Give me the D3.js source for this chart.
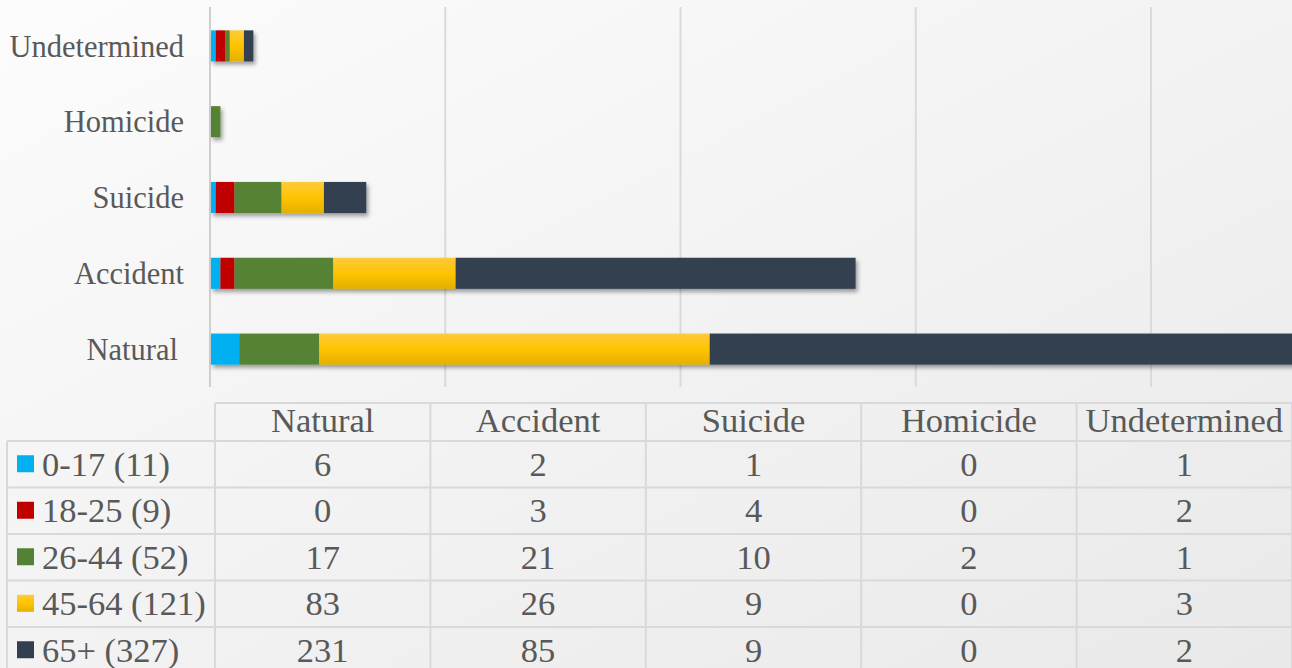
<!doctype html>
<html lang="en">
<head>
<meta charset="utf-8">
<title>Deaths by manner and age group</title>
<script src="https://cdn.jsdelivr.net/npm/d3@7"></script>
<style>
  html, body { margin: 0; padding: 0; overflow: hidden; }
  svg text { font-family: "Liberation Serif", "Times New Roman", serif; fill: #595959; }
</style>
</head>
<body>
<div id="chart"></div>
<script>
// categories (bottom to top in the bars, left to right in the table)
var categories = ["Natural", "Accident", "Suicide", "Homicide", "Undetermined"];
var seriesNames = ["0-17 (11)", "18-25 (9)", "26-44 (52)", "45-64 (121)", "65+ (327)"];
var age0017 = [6, 2, 1, 0, 1];
var age1825 = [0, 3, 4, 0, 2];
var age2644 = [17, 21, 10, 2, 1];
var age4564 = [83, 26, 9, 0, 3];
var age65up = [231, 85, 9, 0, 2];
var seriesValues = [age0017, age1825, age2644, age4564, age65up];
var xTicks = [0, 50, 100, 150, 200, 250, 300, 350];

var colors = ["#00b0f0", "#c00000", "#548235", "#ffc000", "#333f50"];

var W = 1292, H = 668;

var svg = d3.select("#chart").append("svg")
    .attr("width", W).attr("height", H);

var defs = svg.append("defs");

var bg = defs.append("linearGradient").attr("id", "bg")
    .attr("x1", 0).attr("y1", 0).attr("x2", 1).attr("y2", 1);
bg.append("stop").attr("offset", 0).attr("stop-color", "#fcfcfc");
bg.append("stop").attr("offset", 1).attr("stop-color", "#e9e9e9");

// yellow series gets the glossy top-to-bottom shade
var gold = defs.append("linearGradient").attr("id", "gold")
    .attr("x1", 0).attr("y1", 0).attr("x2", 0).attr("y2", 1);
gold.append("stop").attr("offset", 0).attr("stop-color", "#ffca3a");
gold.append("stop").attr("offset", 0.5).attr("stop-color", "#ffc400");
gold.append("stop").attr("offset", 1).attr("stop-color", "#e3b000");

var shadow = defs.append("filter").attr("id", "shadow")
    .attr("x", "-5%").attr("y", "-30%").attr("width", "110%").attr("height", "180%");
shadow.append("feDropShadow")
    .attr("dx", 2).attr("dy", 3).attr("stdDeviation", 2.2)
    .attr("flood-color", "#000").attr("flood-opacity", 0.38);

function fillFor(i) { return i === 3 ? "url(#gold)" : colors[i]; }

svg.append("rect").attr("width", W).attr("height", H).attr("fill", "url(#bg)");

// ---- bar chart ----
var x = d3.scaleLinear().domain([0, 350]).range([210, 210 + 350 * 4.705]);
var y = d3.scaleBand()
    .domain(categories.slice().reverse())
    .range([8, 387])
    .paddingInner(0.59)
    .paddingOuter(0.295);

svg.append("g").selectAll("line")
    .data(xTicks)
    .enter().append("line")
    .attr("x1", function(d) { return x(d); })
    .attr("x2", function(d) { return x(d); })
    .attr("y1", 7).attr("y2", 387)
    .attr("stroke", function(d) { return d === 0 ? "#cfcfcf" : "#dadada"; })
    .attr("stroke-width", 2);

var stackData = categories.map(function(c, ci) {
  var row = { cat: c };
  seriesNames.forEach(function(s, si) { row[s] = seriesValues[si][ci]; });
  return row;
});
var stacked = d3.stack().keys(seriesNames)(stackData);

var bars = svg.append("g").attr("filter", "url(#shadow)");
stacked.forEach(function(layer, si) {
  bars.selectAll(null)
    .data(layer.filter(function(d) { return d[1] > d[0]; }))
    .enter().append("rect")
    .attr("x", function(d) { return x(d[0]) + 1; })
    .attr("width", function(d) { return x(d[1]) - x(d[0]); })
    .attr("y", function(d) { return y(d.data.cat); })
    .attr("height", y.bandwidth())
    .attr("fill", fillFor(si));
});

svg.append("g").selectAll("text")
    .data(categories)
    .enter().append("text")
    .attr("x", function(d) { return d === "Natural" ? 178 : 184; })
    .attr("y", function(d) { return y(d) + y.bandwidth() / 2; })
    .attr("dy", "0.35em")
    .attr("text-anchor", "end")
    .style("font-size", "30.5px")
    .text(function(d) { return d; });

// ---- data table ----
var colX = d3.scaleBand().domain(categories).range([215, 215 + 5 * 215.4]);
var headTop = 403, headBottom = 441, rowH = 46.5;
var rowY = d3.scaleBand().domain(seriesNames)
    .range([headBottom, headBottom + rowH * seriesNames.length]);

var grid = svg.append("g").attr("stroke", "#d9d9d9").attr("stroke-width", 2);
// header top line and header column separators
grid.append("line").attr("x1", 215).attr("x2", W).attr("y1", headTop).attr("y2", headTop);
grid.selectAll(".hsep")
    .data(categories.concat(["end"]))
    .enter().append("line")
    .attr("x1", function(d, i) { return 215 + i * colX.bandwidth(); })
    .attr("x2", function(d, i) { return 215 + i * colX.bandwidth(); })
    .attr("y1", headTop).attr("y2", H);
// row lines
grid.selectAll(".rsep")
    .data(seriesNames)
    .enter().append("line")
    .attr("x1", 7).attr("x2", W)
    .attr("y1", function(d) { return rowY(d); })
    .attr("y2", function(d) { return rowY(d); });
grid.append("line").attr("x1", 7).attr("x2", 7).attr("y1", headBottom).attr("y2", H);

svg.append("g").selectAll("text")
    .data(categories)
    .enter().append("text")
    .attr("x", function(d) { return colX(d) + colX.bandwidth() / 2; })
    .attr("y", 432)
    .attr("text-anchor", "middle")
    .style("font-size", "34.5px")
    .text(function(d) { return d; });

var rows = svg.append("g").selectAll("g")
    .data(seriesNames)
    .enter().append("g")
    .attr("transform", function(d) { return "translate(0," + rowY(d) + ")"; });

rows.append("rect")
    .attr("x", 17).attr("y", rowH / 2 - 9)
    .attr("width", 17).attr("height", 17)
    .attr("fill", function(d, i) { return fillFor(i); });

rows.append("text")
    .attr("x", 42).attr("y", rowH / 2 + 11.5)
    .style("font-size", "34.5px")
    .text(function(d) { return d; });

rows.each(function(s, si) {
  d3.select(this).selectAll(".v")
    .data(seriesValues[si])
    .enter().append("text")
    .attr("x", function(v, ci) { return colX(categories[ci]) + colX.bandwidth() / 2; })
    .attr("y", rowH / 2 + 11.5)
    .attr("text-anchor", "middle")
    .style("font-size", "34.5px")
    .text(function(v) { return v; });
});
</script>
</body>
</html>
